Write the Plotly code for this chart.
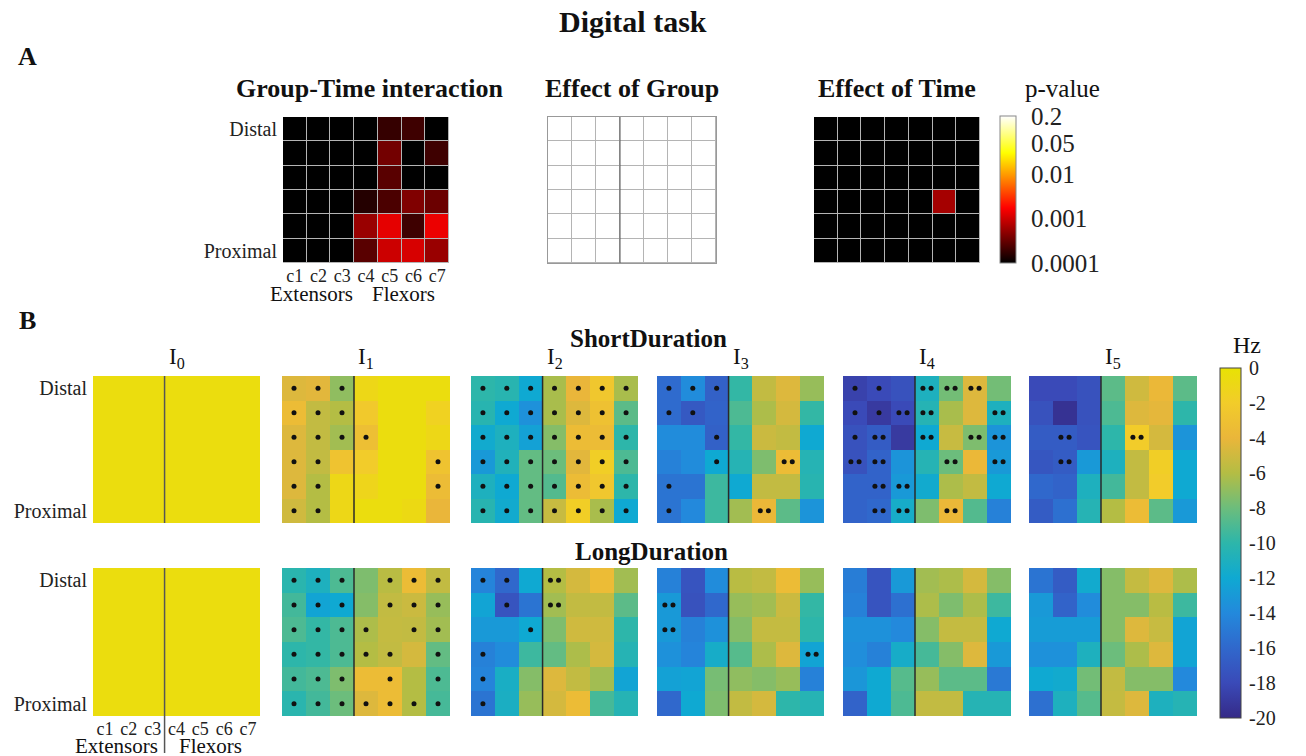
import numpy as np
import plotly.graph_objects as go

W, H = 1306, 756
FONT = "Liberation Serif"

# ---------------- data ----------------
col_labels = ["c1", "c2", "c3", "c4", "c5", "c6", "c7"]
row_labels = ["Distal", "Proximal"]
interval_labels = ["I<sub>0</sub>", "I<sub>1</sub>", "I<sub>2</sub>",
                   "I<sub>3</sub>", "I<sub>4</sub>", "I<sub>5</sub>"]
p_tick_vals = [0.0001, 0.001, 0.01, 0.05, 0.2]
p_tick_text = ["0.0001", "0.001", "0.01", "0.05", "0.2"]
hz_tick_vals = [0, -2, -4, -6, -8, -10, -12, -14, -16, -18, -20]
hz_tick_text = ["0", "-2", "-4", "-6", "-8", "-10", "-12", "-14", "-16", "-18", "-20"]

# Panel A: p-values (rows Distal -> Proximal, columns c1..c7)
p_group_time = [
    [1e-4, 1e-4, 1e-4, 1e-4, 1.8e-4, 2.0e-4, 1e-4],
    [1e-4, 1e-4, 1e-4, 1e-4, 3.6e-4, 1e-4, 2.0e-4],
    [1e-4, 1e-4, 1e-4, 1e-4, 2.7e-4, 1e-4, 1e-4],
    [1e-4, 1e-4, 1e-4, 1.5e-4, 2.3e-4, 4.2e-4, 3.3e-4],
    [1e-4, 1e-4, 1e-4, 5.5e-4, 1.3e-3, 2.0e-4, 1.4e-3],
    [1e-4, 1e-4, 1e-4, 2.7e-4, 9.8e-4, 1.1e-3, 5.5e-4],
]
p_group = [
    [1.0, 1.0, 1.0, 1.0, 1.0, 1.0, 1.0],
    [1.0, 1.0, 1.0, 1.0, 1.0, 1.0, 1.0],
    [1.0, 1.0, 1.0, 1.0, 1.0, 1.0, 1.0],
    [1.0, 1.0, 1.0, 1.0, 1.0, 1.0, 1.0],
    [1.0, 1.0, 1.0, 1.0, 1.0, 1.0, 1.0],
    [1.0, 1.0, 1.0, 1.0, 1.0, 1.0, 1.0],
]
p_time = [
    [1e-4, 1e-4, 1e-4, 1e-4, 1e-4, 1e-4, 1e-4],
    [1e-4, 1e-4, 1e-4, 1e-4, 1e-4, 1e-4, 1e-4],
    [1e-4, 1e-4, 1e-4, 1e-4, 1e-4, 1e-4, 1e-4],
    [1e-4, 1e-4, 1e-4, 1e-4, 1e-4, 6.3e-4, 1e-4],
    [1e-4, 1e-4, 1e-4, 1e-4, 1e-4, 1e-4, 1e-4],
    [1e-4, 1e-4, 1e-4, 1e-4, 1e-4, 1e-4, 1e-4],
]

# Panel B: firing-rate change (Hz)
short_I0 = [
    [-0.5, -0.5, -0.5, -0.5, -0.5, -0.5, -0.5],
    [-0.5, -0.5, -0.5, -0.5, -0.5, -0.5, -0.5],
    [-0.5, -0.5, -0.5, -0.5, -0.5, -0.5, -0.5],
    [-0.5, -0.5, -0.5, -0.5, -0.5, -0.5, -0.5],
    [-0.5, -0.5, -0.5, -0.5, -0.5, -0.5, -0.5],
    [-0.5, -0.5, -0.5, -0.5, -0.5, -0.5, -0.5],
]
short_I1 = [
    [-4.5, -4.3, -7.0, -1.0, -0.5, -0.5, -0.5],
    [-3.5, -5.5, -6.0, -2.3, -0.5, -0.5, -1.5],
    [-4.5, -5.5, -6.5, -3.2, -0.5, -0.5, -1.0],
    [-4.5, -5.5, -2.8, -2.0, -0.5, -0.5, -2.8],
    [-4.5, -6.0, -1.0, -1.2, -0.5, -0.5, -3.5],
    [-5.0, -6.0, -1.0, -0.5, -0.5, -0.8, -4.0],
]
short_I2 = [
    [-10.0, -10.3, -12.0, -6.3, -4.0, -2.5, -6.3],
    [-10.3, -12.0, -13.5, -6.3, -4.5, -3.0, -8.5],
    [-11.8, -11.0, -12.5, -7.3, -3.5, -3.5, -10.0],
    [-13.0, -10.8, -8.3, -8.0, -4.3, -1.8, -9.0],
    [-11.0, -12.0, -8.3, -8.8, -3.5, -2.5, -10.0],
    [-10.3, -11.8, -8.3, -5.3, -1.8, -6.3, -12.0],
]
short_I3 = [
    [-15.8, -13.8, -16.5, -9.8, -5.5, -4.5, -6.8],
    [-15.8, -17.0, -16.3, -9.0, -6.2, -4.8, -9.8],
    [-13.8, -13.8, -16.5, -9.8, -5.2, -5.5, -12.0],
    [-14.5, -13.8, -12.0, -10.5, -7.5, -3.5, -10.5],
    [-15.3, -15.3, -9.5, -12.0, -5.5, -5.5, -10.3],
    [-15.3, -14.0, -9.5, -6.5, -3.8, -8.5, -13.3],
]
short_I4 = [
    [-18.5, -18.0, -17.5, -11.0, -7.8, -4.5, -7.8],
    [-18.0, -19.0, -18.0, -10.5, -6.3, -4.5, -11.0],
    [-17.5, -16.8, -19.0, -12.0, -5.3, -7.5, -13.3],
    [-17.5, -16.3, -13.3, -10.5, -8.0, -3.8, -13.0],
    [-16.3, -16.3, -13.0, -11.8, -6.2, -5.5, -12.0],
    [-16.3, -16.0, -11.5, -7.5, -3.8, -8.8, -14.5],
]
short_I5 = [
    [-18.0, -18.0, -17.5, -8.5, -5.0, -3.8, -8.5],
    [-17.5, -19.5, -17.5, -9.0, -4.5, -4.2, -10.0],
    [-16.8, -16.8, -17.3, -10.0, -2.0, -4.8, -13.3],
    [-17.2, -16.8, -13.0, -11.0, -5.5, -1.8, -12.0],
    [-16.0, -16.3, -11.0, -9.3, -5.5, -2.0, -12.0],
    [-16.8, -15.5, -10.5, -6.0, -3.5, -8.5, -13.0],
]
long_I0 = [
    [-0.5, -0.5, -0.5, -0.5, -0.5, -0.5, -0.5],
    [-0.5, -0.5, -0.5, -0.5, -0.5, -0.5, -0.5],
    [-0.5, -0.5, -0.5, -0.5, -0.5, -0.5, -0.5],
    [-0.5, -0.5, -0.5, -0.5, -0.5, -0.5, -0.5],
    [-0.5, -0.5, -0.5, -0.5, -0.5, -0.5, -0.5],
    [-0.5, -0.5, -0.5, -0.5, -0.5, -0.5, -0.5],
]
long_I1 = [
    [-10.2, -11.0, -9.0, -7.5, -5.8, -3.5, -5.5],
    [-9.3, -12.3, -12.0, -7.3, -5.5, -5.2, -6.8],
    [-9.0, -9.8, -9.0, -6.2, -5.4, -5.5, -6.5],
    [-10.0, -9.8, -9.0, -6.0, -5.5, -4.8, -8.3],
    [-9.3, -9.0, -7.5, -3.5, -3.5, -6.0, -9.0],
    [-10.2, -9.3, -8.0, -4.5, -3.5, -6.0, -9.2],
]
long_I2 = [
    [-14.3, -16.0, -12.0, -6.0, -4.8, -3.5, -6.5],
    [-12.3, -17.3, -15.3, -6.5, -5.5, -5.5, -8.5],
    [-13.0, -13.0, -12.0, -7.5, -5.0, -5.0, -10.0],
    [-14.5, -13.8, -9.5, -8.3, -6.2, -4.8, -10.5],
    [-14.3, -11.3, -7.3, -4.5, -5.5, -6.5, -12.3],
    [-15.3, -11.2, -6.8, -4.8, -3.5, -9.2, -10.5],
]
long_I3 = [
    [-14.5, -17.3, -13.8, -5.8, -5.5, -3.5, -6.8],
    [-13.0, -17.5, -16.0, -6.8, -6.5, -5.2, -9.8],
    [-13.0, -14.5, -13.5, -7.3, -5.4, -5.4, -10.0],
    [-13.5, -14.3, -11.5, -8.7, -6.2, -4.5, -12.3],
    [-12.5, -12.3, -7.7, -7.0, -7.3, -6.8, -14.5],
    [-16.0, -12.0, -7.5, -5.5, -4.8, -10.0, -10.5],
]
long_I4 = [
    [-14.7, -17.3, -13.0, -6.5, -6.2, -4.8, -7.3],
    [-14.5, -17.3, -15.5, -6.2, -7.5, -6.2, -9.5],
    [-13.5, -13.5, -14.0, -7.3, -5.4, -5.4, -12.0],
    [-13.7, -14.5, -11.5, -9.2, -7.3, -4.5, -13.0],
    [-13.2, -12.0, -8.7, -6.8, -8.5, -8.5, -15.0],
    [-16.3, -12.0, -9.0, -5.5, -5.5, -10.5, -10.5],
]
long_I5 = [
    [-15.3, -16.8, -11.8, -7.3, -5.4, -4.5, -6.2],
    [-13.0, -16.3, -13.8, -7.3, -7.3, -5.8, -9.5],
    [-12.8, -12.8, -12.8, -7.3, -4.5, -5.3, -12.3],
    [-13.5, -13.5, -11.0, -8.0, -6.2, -4.5, -12.3],
    [-12.0, -11.8, -7.8, -5.5, -7.3, -7.3, -14.0],
    [-15.5, -11.0, -8.7, -5.4, -4.5, -11.0, -10.5],
]

# significance marks: 0 none, 1 one dot, 2 two dots
no_marks = [
    [0, 0, 0, 0, 0, 0, 0],
    [0, 0, 0, 0, 0, 0, 0],
    [0, 0, 0, 0, 0, 0, 0],
    [0, 0, 0, 0, 0, 0, 0],
    [0, 0, 0, 0, 0, 0, 0],
    [0, 0, 0, 0, 0, 0, 0],
]
short_marks_I1 = [
    [1, 1, 1, 0, 0, 0, 0],
    [1, 1, 1, 0, 0, 0, 0],
    [1, 1, 1, 1, 0, 0, 0],
    [1, 1, 0, 0, 0, 0, 1],
    [1, 1, 0, 0, 0, 0, 1],
    [1, 1, 0, 0, 0, 0, 0],
]
short_marks_I2 = [
    [1, 1, 1, 1, 1, 1, 1],
    [1, 1, 1, 1, 1, 1, 1],
    [1, 1, 1, 1, 1, 1, 1],
    [1, 1, 1, 1, 1, 1, 1],
    [1, 1, 1, 1, 1, 1, 1],
    [1, 1, 1, 1, 1, 1, 1],
]
short_marks_I3 = [
    [1, 1, 1, 0, 0, 0, 0],
    [1, 1, 0, 0, 0, 0, 0],
    [0, 0, 1, 0, 0, 0, 0],
    [0, 0, 1, 0, 0, 2, 0],
    [1, 0, 0, 0, 0, 0, 0],
    [1, 0, 0, 0, 2, 0, 0],
]
short_marks_I4 = [
    [1, 1, 0, 2, 2, 2, 0],
    [1, 1, 2, 2, 0, 0, 2],
    [1, 2, 0, 2, 0, 2, 2],
    [2, 2, 0, 0, 2, 0, 2],
    [0, 2, 2, 0, 0, 0, 0],
    [0, 2, 2, 0, 2, 0, 0],
]
short_marks_I5 = [
    [0, 0, 0, 0, 0, 0, 0],
    [0, 0, 0, 0, 0, 0, 0],
    [0, 2, 0, 0, 2, 0, 0],
    [0, 2, 0, 0, 0, 0, 0],
    [0, 0, 0, 0, 0, 0, 0],
    [0, 0, 0, 0, 0, 0, 0],
]
long_marks_I1 = [
    [1, 1, 1, 0, 1, 1, 1],
    [1, 1, 1, 0, 1, 1, 1],
    [1, 1, 1, 1, 0, 1, 1],
    [1, 1, 1, 1, 1, 0, 1],
    [1, 1, 1, 0, 1, 0, 1],
    [1, 1, 1, 1, 1, 1, 1],
]
long_marks_I2 = [
    [1, 1, 0, 2, 0, 0, 0],
    [0, 1, 0, 2, 0, 0, 0],
    [0, 0, 1, 0, 0, 0, 0],
    [1, 0, 0, 0, 0, 0, 0],
    [1, 0, 0, 0, 0, 0, 0],
    [1, 0, 0, 0, 0, 0, 0],
]
long_marks_I3 = [
    [0, 0, 0, 0, 0, 0, 0],
    [2, 0, 0, 0, 0, 0, 0],
    [2, 0, 0, 0, 0, 0, 0],
    [0, 0, 0, 0, 0, 0, 2],
    [0, 0, 0, 0, 0, 0, 0],
    [0, 0, 0, 0, 0, 0, 0],
]

short_data = [short_I0, short_I1, short_I2, short_I3, short_I4, short_I5]
long_data = [long_I0, long_I1, long_I2, long_I3, long_I4, long_I5]
short_marks = [no_marks, short_marks_I1, short_marks_I2, short_marks_I3,
               short_marks_I4, short_marks_I5]
long_marks = [no_marks, long_marks_I1, long_marks_I2, long_marks_I3,
              no_marks, no_marks]

# ---------------- layout helpers ----------------
def fx(px):
    return px / W


def fy(py):
    return 1 - py / H


hot_scale = [[0.0, "#000000"], [0.375, "#ff0000"], [0.75, "#ffff00"], [1.0, "#ffffff"]]
parula_scale = [
    [0.0, "#352a87"], [0.1, "#3a4ab8"], [0.2, "#3068cc"], [0.3, "#2389dc"],
    [0.4, "#0fa9d2"], [0.5, "#2db6aa"], [0.6, "#6cbd7c"], [0.7, "#b4bd44"],
    [0.8, "#eab63a"], [0.9, "#f2cc2a"], [1.0, "#e8e204"],
]

fig = go.Figure()
counter = [0]
xtickfont = dict(family=FONT, size=18, color="#222")
ytickfont = dict(family=FONT, size=20, color="#222")


def add_panel(x0, x1, y0, y1, z, caxis, gap=0, xticks=False, yticks=False,
              border=None):
    counter[0] += 1
    n = counter[0]
    key = "" if n == 1 else str(n)
    xa, ya = "x" + key, "y" + key
    fig.add_trace(go.Heatmap(
        z=z, x=list(range(1, 8)), y=list(range(1, 7)), coloraxis=caxis,
        xgap=gap, ygap=gap, xaxis=xa, yaxis=ya, hoverinfo="skip"))
    xdict = dict(domain=[fx(x0), fx(x1)], range=[0.5, 7.5], anchor=ya,
                 showgrid=False, zeroline=False, ticks="", fixedrange=True,
                 showticklabels=xticks, tickvals=list(range(1, 8)),
                 ticktext=col_labels, tickfont=xtickfont, ticklabelstandoff=0)
    ydict = dict(domain=[fy(y1), fy(y0)], range=[6.5, 0.5], anchor=xa,
                 showgrid=False, zeroline=False, ticks="", fixedrange=True,
                 showticklabels=yticks, tickvals=[1, 6], ticktext=row_labels,
                 tickfont=ytickfont, ticklabelstandoff=5)
    if border:
        xdict.update(showline=True, mirror=True, linecolor=border, linewidth=1)
        ydict.update(showline=True, mirror=True, linecolor=border, linewidth=1)
    fig.update_layout(**{"xaxis" + key: xdict, "yaxis" + key: ydict})
    return xa, ya


def add_marks(xa, ya, marks):
    xs, ys = [], []
    for r, row in enumerate(marks):
        for c, m in enumerate(row):
            if m == 1:
                xs.append(c + 1)
                ys.append(r + 1)
            elif m == 2:
                xs += [c + 1 - 0.17, c + 1 + 0.17]
                ys += [r + 1, r + 1]
    if xs:
        fig.add_trace(go.Scatter(x=xs, y=ys, mode="markers", xaxis=xa, yaxis=ya,
                                 marker=dict(size=5, color="#111"),
                                 hoverinfo="skip", showlegend=False))


def divider(xa, ya, color="#333", width=1.5):
    fig.add_shape(type="line", xref=xa, yref=ya, x0=3.5, x1=3.5, y0=0.5, y1=6.5,
                  line=dict(color=color, width=width))


# ---------------- panel A ----------------
A_top, A_bot = 117, 263
add_panel(283, 449, A_top, A_bot, np.log10(p_group_time), "coloraxis", gap=1,
          xticks=True, yticks=True)
xa, ya = add_panel(548, 716, A_top, A_bot, np.log10(p_group), "coloraxis", gap=1,
                   border="#999")
divider(xa, ya, color="#555", width=1)
add_panel(814, 980, A_top, A_bot, np.log10(p_time), "coloraxis", gap=1)

# ---------------- panel B ----------------
B_x = [(93, 260), (282, 450), (471, 638), (657, 824), (843, 1011), (1029, 1197)]
B_rows = [(376, 523, short_data, short_marks), (568, 716, long_data, long_marks)]
bottom_I0 = None
for ri, (y0, y1, data, marks) in enumerate(B_rows):
    for i, (x0, x1) in enumerate(B_x):
        xa, ya = add_panel(x0, x1, y0, y1, data[i], "coloraxis2",
                           xticks=(ri == 1 and i == 0), yticks=(i == 0))
        add_marks(xa, ya, marks[i])
        divider(xa, ya, color="#555" if i == 0 else "#2a2a2a", width=1.5)
        if ri == 1 and i == 0:
            bottom_I0 = xa

# separator between Extensors and Flexors below the last I0 map
fig.add_shape(type="line", xref=bottom_I0, yref="paper", x0=3.5, x1=3.5,
              y0=fy(753), y1=fy(716), line=dict(color="#555", width=1.5))

fig.update_layout(
    coloraxis=dict(
        colorscale=hot_scale, cmin=np.log10(1e-4), cmax=np.log10(0.2),
        colorbar=dict(
            x=fx(1000), xanchor="left", y=fy(116), yanchor="top",
            lenmode="pixels", len=147, thicknessmode="pixels", thickness=16,
            xpad=0, ypad=0, outlinecolor="#888", outlinewidth=1,
            tickvals=list(np.log10(p_tick_vals)), ticktext=p_tick_text,
            ticks="outside", ticklen=10, tickcolor="rgba(0,0,0,0)",
            tickfont=dict(family=FONT, size=25, color="#222"))),
    coloraxis2=dict(
        colorscale=parula_scale, cmin=-20, cmax=0,
        colorbar=dict(
            x=fx(1220), xanchor="left", y=fy(368), yanchor="top",
            lenmode="pixels", len=350, thicknessmode="pixels", thickness=21,
            xpad=0, ypad=0, outlinecolor="#444", outlinewidth=1,
            tickvals=hz_tick_vals, ticktext=hz_tick_text,
            ticks="outside", ticklen=4, tickcolor="rgba(0,0,0,0)",
            tickfont=dict(family=FONT, size=20, color="#222"))),
)


# ---------------- texts ----------------
def text(x, y, s, size, bold=False):
    fig.add_annotation(x=fx(x), y=fy(y), xref="paper", yref="paper",
                       text=("<b>%s</b>" % s) if bold else s,
                       showarrow=False, xanchor="center", yanchor="middle",
                       font=dict(family=FONT, size=size, color="#111"))


text(633, 22, "Digital task", 30, bold=True)
text(27, 57, "A", 26, bold=True)
text(27, 320, "B", 26, bold=True)
text(370, 88, "Group-Time interaction", 26, bold=True)
text(632, 88, "Effect of Group", 26, bold=True)
text(897, 88, "Effect of Time", 26, bold=True)
text(1062, 88, "p-value", 25)
text(311, 294, "Extensors", 21)
text(403, 294, "Flexors", 21)
text(648, 339, "ShortDuration", 25, bold=True)
text(651, 551, "LongDuration", 25, bold=True)
for i, (x0, x1) in enumerate(B_x):
    text((x0 + x1) / 2, 358, interval_labels[i], 23)
text(1247, 345, "Hz", 24)
text(116, 746, "Extensors", 21)
text(210, 746, "Flexors", 21)

fig.update_layout(
    width=W, height=H, margin=dict(l=0, r=0, t=0, b=0),
    paper_bgcolor="white", plot_bgcolor="#b4b4b4", showlegend=False,
)

fig.write_html("out.html", config={"displayModeBar": False},
               post_script="document.body.style.margin='0';document.body.style.overflow='hidden';")
